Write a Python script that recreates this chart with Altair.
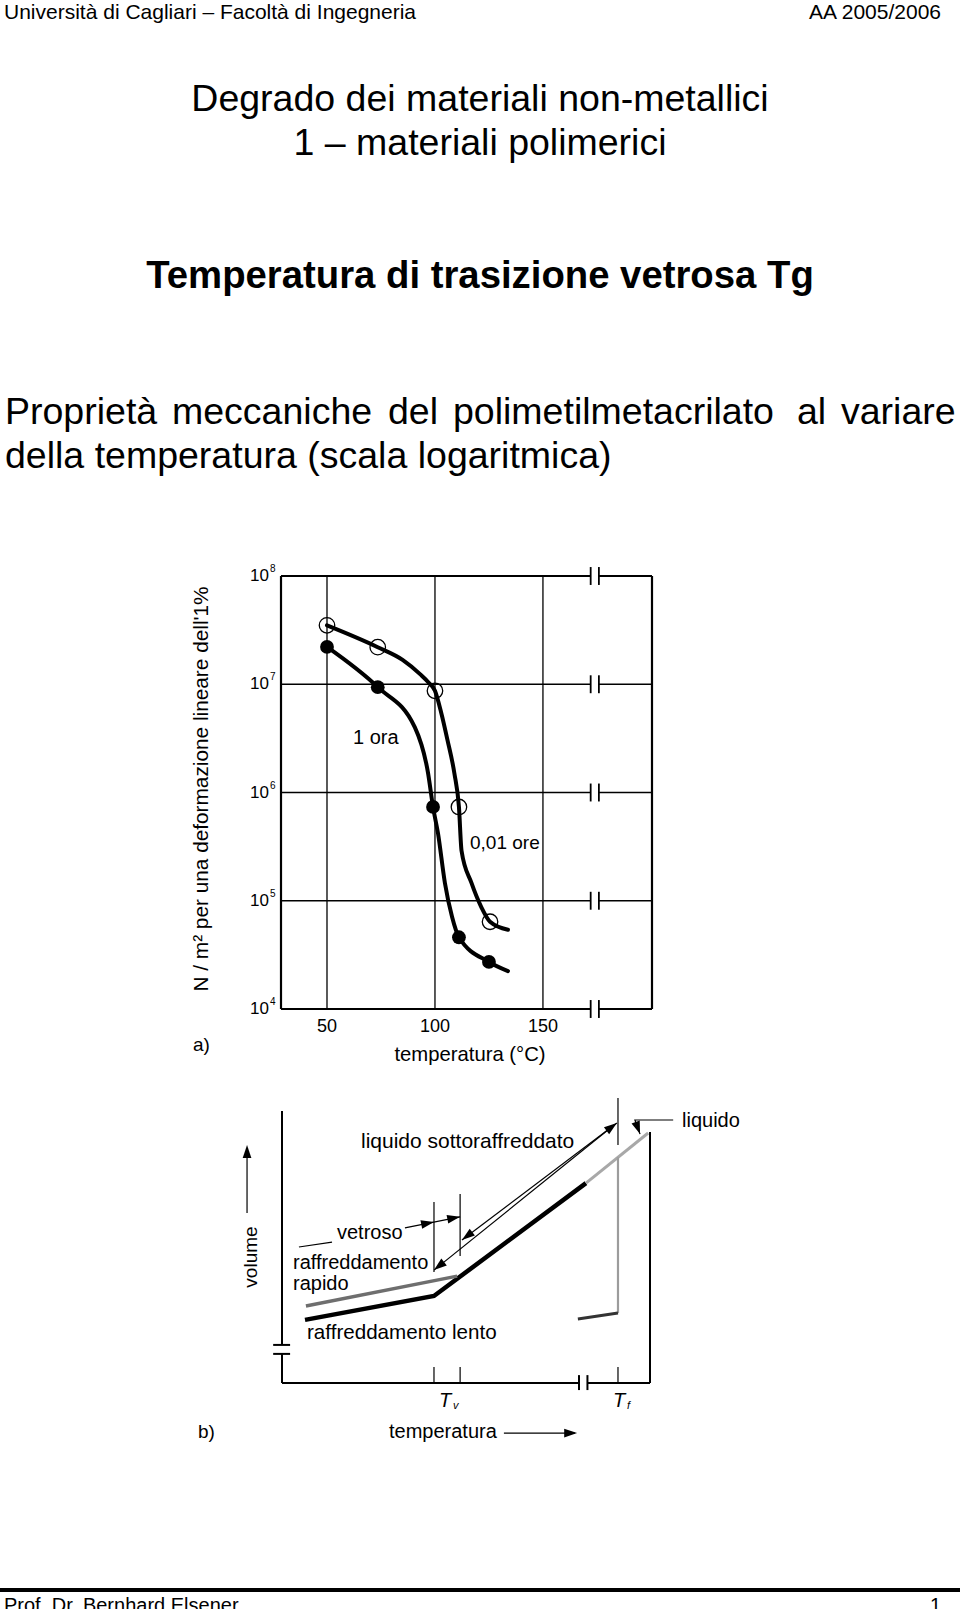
import math
import altair as alt
import pandas as pd

FONT = "Liberation Sans"
W, H = 960, 1609

# ------------------------------------------------------------------ texts
header_left = "Università di Cagliari – Facoltà di Ingegneria"
header_right = "AA 2005/2006"
title_lines = ["Degrado dei materiali non-metallici", "1 – materiali polimerici"]
subtitle = "Temperatura di trasizione vetrosa Tg"
desc_line1_words = ["Proprietà", "meccaniche", "del", "polimetilmetacrilato", "al", "variare"]
desc_line2 = "della temperatura (scala logaritmica)"
footer_left = "Prof. Dr. Bernhard Elsener"
footer_right = "1"

# ------------------------------------------------------------------ panel a data
a_x_ticks = [50, 100, 150]
a_x_tick_labels = ["50", "100", "150"]
a_y_ticks = [1e4, 1e5, 1e6, 1e7, 1e8]
a_y_tick_base = ["10", "10", "10", "10", "10"]
a_y_tick_exp = ["4", "5", "6", "7", "8"]
a_x_title = "temperatura (°C)"
a_y_title = "N / m² per una deformazione lineare dell'1%"
a_series_names = ["1 ora", "0,01 ore"]

# curve "1 ora" (filled markers)
c1_t = [50, 73.5, 90.7, 96.8, 99.1, 101.4, 104.6, 107.9, 111.1, 125.0, 133.8]
c1_v = [2.21e7, 9.4e6, 4.0e6, 1.51e6, 7.35e5, 4.2e5, 1.46e5, 7.1e4, 4.6e4, 2.72e4, 2.24e4]
m1_t = [50, 73.5, 99.1, 111.1, 125.0]
m1_v = [2.21e7, 9.4e6, 7.35e5, 4.6e4, 2.72e4]

# curve "0,01 ore" (open markers)
c2_t = [50, 73.5, 85.0, 93.1, 96.8, 100, 102.8, 105.8, 109.0, 111.1, 112.3, 116.9, 121.5, 125.5, 133.8]
c2_v = [3.5e7, 2.2e7, 1.68e7, 1.24e7, 1.05e7, 8.7e6, 5.55e6, 3.05e6, 1.5e6, 7.35e5, 2.9e5,
        1.46e5, 8.7e4, 6.4e4, 5.4e4]
m2_t = [50, 73.5, 100, 111.1, 125.5]
m2_v = [3.5e7, 2.2e7, 8.7e6, 7.35e5, 6.4e4]

# frame / axis break of panel a (temperature units)
a_frame_t = [28.7, 200.5]
a_break_t = [172.1, 175.9]

# ------------------------------------------------------------------ panel b data (arbitrary units 0..100)
b_paths = {
    "lento": [(6.25, 23.2), (41.3, 32.0), (82.6, 73.5)],
    "liquido": [(82.6, 73.5), (99.5, 91.9)],
    "rapido": [(6.5, 28.3), (47.6, 39.3)],
    "cryst_v": [(91.3, 83.0), (91.3, 25.7)],
    "cryst_h": [(91.3, 25.7), (80.4, 23.5)],
    "ax_left_up": [(0, 100), (0, 14.0)],
    "ax_left_lo": [(0, 10.7), (0, 0)],
    "ax_bot_l": [(0, 0), (80.7, 0)],
    "ax_bot_r": [(83.0, 0), (100, 0)],
    "ax_right": [(100, 0), (100, 92.3)],
    "brk_1": [(-2.4, 14.0), (2.2, 14.0)],
    "brk_2": [(-2.4, 10.7), (2.2, 10.7)],
    "brk_3": [(80.7, -2.6), (80.7, 2.9)],
    "brk_4": [(83.0, -2.6), (83.0, 2.9)],
    "tick_1": [(41.3, 0), (41.3, 5.9)],
    "tick_2": [(48.4, 0), (48.4, 5.9)],
    "tick_3": [(91.3, 0), (91.3, 5.9)],
    "tv_1": [(41.3, 40.8), (41.3, 66.5)],
    "tv_2": [(48.4, 46.7), (48.4, 69.5)],
    "tf": [(91.3, 87.5), (91.3, 104.8)],
    "arr_a": [(91.0, 95.6), (48.9, 52.6)],
    "arr_b": [(89.5, 94.0), (41.3, 41.5)],
    "arr_vetr": [(33.4, 57.0), (48.4, 61.1)],
    "vetr_left": [(4.6, 50.0), (13.6, 51.8)],
    "liq_lead": [(106.3, 96.7), (95.9, 96.7), (97.3, 91.5)],
    "vol_arrow": [(-9.5, 62.5), (-9.5, 85.7)],
    "temp_arrow": [(60.3, -18.4), (79.6, -18.4)],
}
# arrow heads: (tip, coming-from)
b_heads = [
    ((91.0, 95.6), (48.9, 52.6)),
    ((48.9, 52.6), (91.0, 95.6)),
    ((41.3, 41.5), (89.5, 94.0)),
    ((41.3, 59.2), (33.4, 57.0)),
    ((48.4, 61.1), (41.3, 59.2)),
    ((97.3, 91.5), (95.9, 96.7)),
    ((-9.5, 87.5), (-9.5, 62.5)),
    ((80.2, -18.4), (60.3, -18.4)),
]

# ------------------------------------------------------------------ styles / layout
b_style = {
    "lento": ("#000000", 4.5), "liquido": ("#a8a8a8", 3.0), "rapido": ("#6e6e6e", 3.5),
    "cryst_v": ("#9c9c9c", 2.2), "cryst_h": ("#333333", 3.0),
}
default_axis_style = ("#000000", 2.0)
thin_style = ("#000000", 1.2)
thin_names = {"tick_1", "tick_2", "tick_3", "tv_1", "tv_2", "tf", "arr_a", "arr_b", "arr_vetr",
              "vetr_left", "liq_lead", "vol_arrow", "temp_arrow"}

AX = alt.Scale(domain=a_frame_t, range=[281, 652], nice=False, zero=False)
AY = alt.Scale(type="log", domain=[1e4, 1e8], range=[1009, 576], nice=False)
BX_RANGE = [282, 650]
BY_RANGE = [1383, 1111]
BX = alt.Scale(domain=[0, 100], range=BX_RANGE, nice=False, zero=False)
BY = alt.Scale(domain=[0, 100], range=BY_RANGE, nice=False, zero=False)


def txt(s, x, y, size=20, align="left", baseline="middle", weight="normal",
        style="normal", angle=None, color="black"):
    kw = dict(font=FONT, fontSize=size, align=align, baseline=baseline,
              fontWeight=weight, fontStyle=style, color=color)
    if angle is not None:
        kw["angle"] = angle
    return alt.Chart(pd.DataFrame({"s": [s]})).mark_text(**kw).encode(
        x=alt.value(x), y=alt.value(y), text="s:N")


layers = []

# ---- header / titles / footer
layers.append(txt(header_left, 4, 19, size=21, baseline="alphabetic"))
layers.append(txt(header_right, 941, 19, size=21, align="right", baseline="alphabetic"))
layers.append(txt(title_lines[0], 480, 111, size=37.5, align="center", baseline="alphabetic"))
layers.append(txt(title_lines[1], 480, 155, size=37.5, align="center", baseline="alphabetic"))
layers.append(txt(subtitle, 480, 288, size=38.3, align="center", baseline="alphabetic", weight="bold"))
for wrd, xx in zip(desc_line1_words, [5, 172, 388, 453, 797, 841]):
    layers.append(txt(wrd, xx, 424, size=37.5, baseline="alphabetic"))
layers.append(txt(desc_line2, 5, 468, size=37.5, baseline="alphabetic"))

footer_line = alt.Chart(pd.DataFrame({"a": [0]})).mark_rule(color="black", strokeWidth=4).encode(
    x=alt.value(0), x2=alt.value(W), y=alt.value(1590))
layers.append(footer_line)
layers.append(txt(footer_left, 4, 1612, size=20, baseline="alphabetic"))
layers.append(txt(footer_right, 941, 1612, size=20, align="right", baseline="alphabetic"))

# ---- panel a : grid & frame
hrows = []
for v in a_y_ticks:
    w = 2.2 if v in (a_y_ticks[0], a_y_ticks[-1]) else 1.3
    hrows.append({"x0": a_frame_t[0], "x1": a_break_t[0], "v": v, "w": w})
    hrows.append({"x0": a_break_t[1], "x1": a_frame_t[1], "v": v, "w": w})
hgrid = alt.Chart(pd.DataFrame(hrows)).mark_rule(color="black").encode(
    x=alt.X("x0:Q", scale=AX, axis=None), x2="x1:Q",
    y=alt.Y("v:Q", scale=AY, axis=None),
    strokeWidth=alt.StrokeWidth("w:Q", scale=None))
layers.append(hgrid)

vrows = [{"t": t, "w": 2.2} for t in a_frame_t] + [{"t": t, "w": 1.3} for t in a_x_ticks]
for r in vrows:
    r["lo"], r["hi"] = a_y_ticks[0], a_y_ticks[-1]
vgrid = alt.Chart(pd.DataFrame(vrows)).mark_rule(color="black").encode(
    x=alt.X("t:Q", scale=AX, axis=None),
    y=alt.Y("lo:Q", scale=AY, axis=None), y2="hi:Q",
    strokeWidth=alt.StrokeWidth("w:Q", scale=None))
layers.append(vgrid)

brows = []
for v in a_y_ticks:
    for b in a_break_t:
        brows.append({"t": b, "lo": v / 1.21, "hi": v * 1.21})
brk = alt.Chart(pd.DataFrame(brows)).mark_rule(color="black", strokeWidth=1.8).encode(
    x=alt.X("t:Q", scale=AX, axis=None),
    y=alt.Y("lo:Q", scale=AY, axis=None), y2="hi:Q")
layers.append(brk)

# ---- panel a : curves and markers
curve_df = pd.concat([
    pd.DataFrame({"t": c1_t, "v": c1_v, "s": a_series_names[0]}),
    pd.DataFrame({"t": c2_t, "v": c2_v, "s": a_series_names[1]}),
])
curves = alt.Chart(curve_df).mark_line(interpolate="monotone", color="black",
                                       strokeWidth=4, strokeCap="round").encode(
    x=alt.X("t:Q", scale=AX, axis=None),
    y=alt.Y("v:Q", scale=AY, axis=None),
    detail="s:N")
layers.append(curves)

filled = alt.Chart(pd.DataFrame({"t": m1_t, "v": m1_v})).mark_point(
    shape="circle", filled=True, size=190, color="black", opacity=1).encode(
    x=alt.X("t:Q", scale=AX, axis=None), y=alt.Y("v:Q", scale=AY, axis=None))
layers.append(filled)
openm = alt.Chart(pd.DataFrame({"t": m2_t, "v": m2_v})).mark_point(
    shape="circle", filled=False, size=240, color="black", strokeWidth=1.3, opacity=1).encode(
    x=alt.X("t:Q", scale=AX, axis=None), y=alt.Y("v:Q", scale=AY, axis=None))
layers.append(openm)

# ---- panel a : tick labels and titles
xl = alt.Chart(pd.DataFrame({"t": a_x_ticks, "lab": a_x_tick_labels})).mark_text(
    font=FONT, fontSize=18, align="center", baseline="middle", color="black").encode(
    x=alt.X("t:Q", scale=AX, axis=None), y=alt.value(1027), text="lab:N")
layers.append(xl)
yl = alt.Chart(pd.DataFrame({"v": a_y_ticks, "lab": a_y_tick_base})).mark_text(
    font=FONT, fontSize=17, align="right", baseline="middle", color="black").encode(
    y=alt.Y("v:Q", scale=AY, axis=None), x=alt.value(269), text="lab:N")
layers.append(yl)
ye = alt.Chart(pd.DataFrame({"v": a_y_ticks, "lab": a_y_tick_exp})).mark_text(
    font=FONT, fontSize=10, align="left", baseline="middle", color="black", dy=-7).encode(
    y=alt.Y("v:Q", scale=AY, axis=None), x=alt.value(270), text="lab:N")
layers.append(ye)

layers.append(txt(a_series_names[0], 353, 738, size=20))
layers.append(txt(a_series_names[1], 470, 843, size=19))
layers.append(txt(a_x_title, 470, 1055, size=20.3, align="center"))
layers.append(txt("a)", 193, 1045, size=19))
layers.append(txt(a_y_title, 202, 789, size=20.8, align="center", angle=270))

# ---- panel b : lines
rows = []
for name, pts in b_paths.items():
    if name in b_style:
        col, w = b_style[name]
    elif name in thin_names:
        col, w = thin_style
    else:
        col, w = default_axis_style
    for i, (T, V) in enumerate(pts):
        rows.append({"seg": name, "ord": i, "T": T, "V": V, "col": col, "w": w})
bl = alt.Chart(pd.DataFrame(rows)).mark_line(strokeCap="butt", strokeJoin="miter").encode(
    x=alt.X("T:Q", scale=BX, axis=None),
    y=alt.Y("V:Q", scale=BY, axis=None),
    detail="seg:N", order="ord:Q",
    color=alt.Color("col:N", scale=None),
    strokeWidth=alt.StrokeWidth("w:Q", scale=None))
layers.append(bl)

# arrow heads
kx = (BX_RANGE[1] - BX_RANGE[0]) / 100.0
ky = (BY_RANGE[0] - BY_RANGE[1]) / 100.0
hrows2 = []
HEAD_R = 7.0
for tip, frm in b_heads:
    dx = (tip[0] - frm[0]) * kx
    dy = -(tip[1] - frm[1]) * ky
    L = math.hypot(dx, dy)
    ux, uy = dx / L, dy / L
    ang = math.degrees(math.atan2(ux, -uy)) % 360
    cx = tip[0] - ux * HEAD_R / kx
    cy = tip[1] + uy * HEAD_R / ky
    hrows2.append({"T": cx, "V": cy, "ang": ang})
heads = alt.Chart(pd.DataFrame(hrows2)).mark_point(
    shape="M0,-1L0.62,0.85L-0.62,0.85Z", filled=True, size=196, color="black", opacity=1).encode(
    x=alt.X("T:Q", scale=BX, axis=None),
    y=alt.Y("V:Q", scale=BY, axis=None),
    angle=alt.Angle("ang:Q", scale=None))
layers.append(heads)

# ---- panel b : texts
layers.append(txt("liquido sottoraffreddato", 361, 1142, size=21))
layers.append(txt("liquido", 682, 1121, size=20))
layers.append(txt("vetroso", 337, 1233, size=20))
layers.append(txt("raffreddamento", 293, 1263, size=20))
layers.append(txt("rapido", 293, 1284, size=20))
layers.append(txt("raffreddamento lento", 307, 1333, size=20.6))
layers.append(txt("volume", 251, 1257, size=19, align="center", angle=270))
layers.append(txt("T", 439, 1401, size=20, style="italic"))
layers.append(txt("v", 453, 1406, size=11, style="italic"))
layers.append(txt("T", 613, 1401, size=20, style="italic"))
layers.append(txt("f", 627, 1406, size=11, style="italic"))
layers.append(txt("b)", 198, 1432, size=19))
layers.append(txt("temperatura", 389, 1432, size=20))

chart = alt.layer(*layers).resolve_scale(x="independent", y="independent").properties(
    width=W, height=H, autosize=alt.AutoSizeParams(type="none"), padding=0,
    background="white",
).configure_view(stroke=None)

chart.save("out.html", embed_options={"renderer": "svg", "actions": False})
